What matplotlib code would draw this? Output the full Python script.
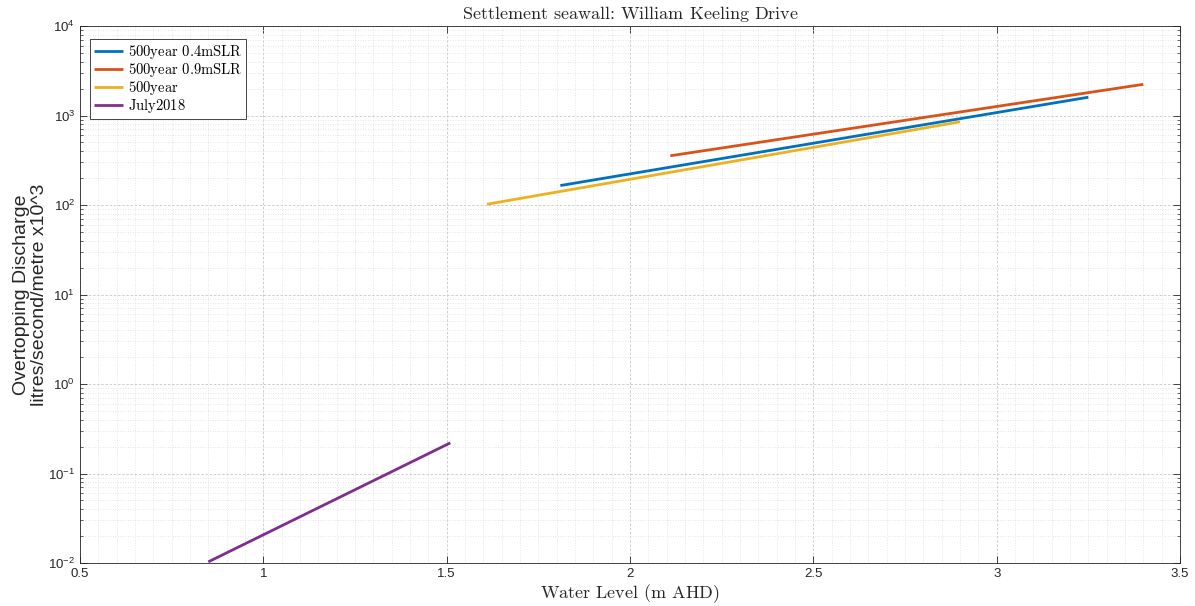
import matplotlib
matplotlib.use("Agg")
import matplotlib.pyplot as plt
from matplotlib.font_manager import FontProperties
from matplotlib.ticker import LogLocator, MultipleLocator, FixedLocator

# Water level (m AHD) vs overtopping discharge (litres/second/metre x10^3)
slr04_x = [1.81, 3.25]
slr04_y = [165, 1600]

slr09_x = [2.11, 3.40]
slr09_y = [355, 2230]

y500_x = [1.61, 2.90]
y500_y = [102, 850]

jul2018_x = [0.85, 1.51]
jul2018_y = [0.0103, 0.22]

series_labels = ["500year 0.4mSLR", "500year 0.9mSLR", "500year", "July2018"]
series_colors = ["#0072BD", "#D95319", "#EDB120", "#7E2F8E"]

x_ticks = [0.5, 1, 1.5, 2, 2.5, 3, 3.5]
x_tick_labels = ["0.5", "1", "1.5", "2", "2.5", "3", "3.5"]

plt.rcParams["font.family"] = ["Liberation Sans", "DejaVu Sans"]
plt.rcParams["mathtext.fontset"] = "custom"
plt.rcParams["mathtext.rm"] = "Liberation Sans"
plt.rcParams["mathtext.it"] = "Liberation Sans:italic"
plt.rcParams["mathtext.bf"] = "Liberation Sans:bold"


def tex(s):
    return r"$\text{" + s + "}$"


fig = plt.figure(figsize=(11.95, 6.06), dpi=100)
ax = fig.add_axes([80 / 1195, 1 - 563 / 606, 1100 / 1195, 537 / 606])

data = [(slr04_x, slr04_y), (slr09_x, slr09_y), (y500_x, y500_y), (jul2018_x, jul2018_y)]
for (xs, ys), lab, col in zip(data, series_labels, series_colors):
    ax.plot(xs, ys, color=col, lw=2.0, label=tex(lab), solid_capstyle="butt")

ax.set_yscale("log")
ax.set_xlim(0.5, 3.5)
ax.set_ylim(1e-2, 1e4)
ax.xaxis.set_major_locator(FixedLocator(x_ticks))
ax.set_xticklabels(x_tick_labels)
ax.xaxis.set_minor_locator(MultipleLocator(0.05))
ax.yaxis.set_major_locator(LogLocator(base=10, numticks=20))
ax.yaxis.set_minor_locator(LogLocator(base=10, subs=range(2, 10), numticks=20))

ax.grid(True, which="major", color="#c8c8c8", linestyle=(0, (3, 2)), lw=0.6)
ax.grid(True, which="minor", color="#dcdcdc", linestyle=(0, (1, 2)), lw=0.6)
ax.set_axisbelow(True)

ax.tick_params(which="both", direction="in", top=True, right=True,
               colors="#262626", labelcolor="#262626", labelsize=9.5)
ax.tick_params(which="major", length=5, width=0.6)
ax.tick_params(which="minor", length=2.5, width=0.5)
ax.tick_params(axis="x", which="minor", length=0)
for sp in ax.spines.values():
    sp.set_color("#262626")
    sp.set_linewidth(0.6)

ax.set_title(tex("Settlement seawall: William Keeling Drive"), fontsize=13,
             math_fontfamily="cm", pad=5, color="#262626")
ax.set_xlabel(tex("Water Level (m AHD)"), fontsize=13, math_fontfamily="cm",
              labelpad=2, color="#262626")
ax.set_ylabel("Overtopping Discharge\nlitres/second/metre x10^3", fontsize=14,
              color="#262626", linespacing=1.1)
ax.yaxis.set_label_coords(-0.029, 0.5)

leg = ax.legend(loc="upper left", bbox_to_anchor=(0.009, 0.975), borderaxespad=0,
                fancybox=False, edgecolor="#262626", framealpha=1,
                prop=FontProperties(size=10.5, math_fontfamily="cm"),
                handlelength=2.0, handletextpad=0.35, labelspacing=0.0,
                borderpad=0.25)
leg.get_frame().set_linewidth(0.6)

fig.savefig("out.png", dpi=100)
